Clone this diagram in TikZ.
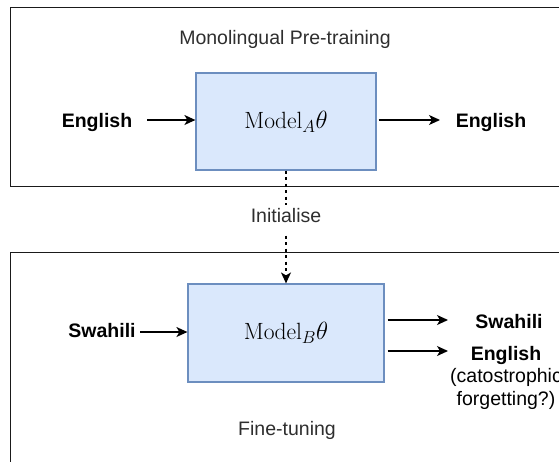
\documentclass[tikz,border=0pt]{standalone}
\usepackage{fontspec}
\newfontfamily\labelfont{Liberation Sans}
\usetikzlibrary{arrows.meta}

\definecolor{modelfill}{HTML}{DAE8FC}
\definecolor{modeldraw}{HTML}{6C8EBF}
\definecolor{frameline}{HTML}{1A1A1A}
\definecolor{textgray}{HTML}{2E2E2E}

\begin{document}
\begin{tikzpicture}[x=1pt,y=-1pt,
  frame/.style={draw=frameline, line width=1.8pt},
  model/.style={draw=modeldraw, fill=modelfill, line width=1.2pt,
    inner sep=0pt, font=\fontsize{23.5}{28}\selectfont},
  lang/.style={font=\labelfont\bfseries\fontsize{19.5}{22.5}\selectfont,
    text=black, inner sep=1pt, anchor=base},
  caption/.style={font=\labelfont\fontsize{19.5}{22.5}\selectfont,
    text=textgray, inner sep=1pt, anchor=base},
  flow/.style={-{Stealth[length=11pt,width=10pt,inset=3pt]}, line width=1.4pt},
  init/.style={-{Stealth[length=11pt,width=10pt,inset=3pt]}, line width=1.3pt,
    dash pattern=on 3pt off 3.5pt},
  ]
\useasboundingbox (0,0) rectangle (559,461);
\clip (0,0) rectangle (559,461);

% stage frames
\draw[frame] (10.5,7.5) rectangle (590,186.5);
\draw[frame] (10.5,252.5) rectangle (590,490);

% monolingual pre-training
\node[caption] (pretitle) at (285,44) {Monolingual Pre-training};
\node[model, minimum width=180pt, minimum height=97pt] (modelA) at (286,121.5)
  {$\mathrm{Model}_A\theta$};
\node[lang] (enin) at (97,127) {English};
\node[lang] (enout) at (491,127) {English};
\coordinate (enin-end) at (147,120);
\coordinate (enout-end) at (440,120);
\draw[flow] (enin-end) -- (modelA.west |- enin-end);
\draw[flow] (modelA.east |- enout-end) ++(2,0) -- (enout-end);

% fine-tuning
\node[model, minimum width=196pt, minimum height=98pt] (modelB) at (286,333)
  {$\mathrm{Model}_B\theta$};
\node[lang] (swin) at (102,337) {Swahili};
\node[lang] (swout) at (509,328) {Swahili};
\node[caption, text=black, anchor=north, align=center] (enkeep) at (506,344.8)
  {\bfseries English\\(catostrophic\\forgetting?)};
\node[caption] (fttitle) at (287,435) {Fine-tuning};
\coordinate (swin-start) at (140,332);
\coordinate (swout-end) at (448,320);
\coordinate (enkeep-end) at (448,351);
\draw[flow] (swin-start) -- (modelB.west |- swin-start);
\draw[flow] (modelB.east |- swout-end) ++(3,0) -- (swout-end);
\draw[flow] (modelB.east |- enkeep-end) ++(3,0) -- (enkeep-end);

% initialisation link
\draw[init] (modelA.south) -- (modelB.north)
  node[caption, pos=0.46, fill=white, text height=15pt, text depth=8pt,
       inner ysep=2pt, inner xsep=1pt] (initlabel) {Initialise};
\end{tikzpicture}
\end{document}
